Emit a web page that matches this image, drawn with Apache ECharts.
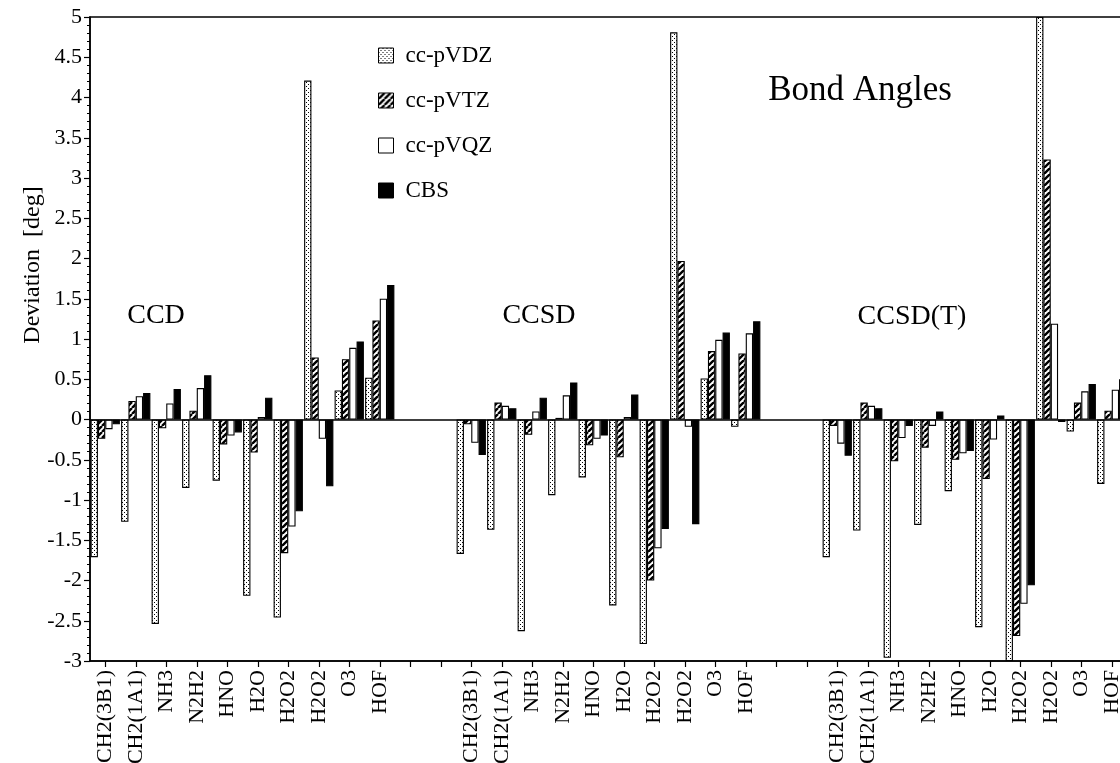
<!DOCTYPE html>
<html>
<head>
<meta charset="utf-8">
<title>Bond Angles</title>
<script src="https://cdn.jsdelivr.net/npm/echarts@6/dist/echarts.min.js"></script>
<style>
  html, body { margin: 0; padding: 0; background: #fff; }
  #chart { width: 1120px; height: 763px; }
</style>
</head>
<body>
<div id="chart"></div>
<script>
// Molecules shown in each method block
const molecules = ['CH2(3B1)', 'CH2(1A1)', 'NH3', 'N2H2', 'HNO', 'H2O', 'H2O2', 'H2O2', 'O3', 'HOF'];
const methods = ['CCD', 'CCSD', 'CCSD(T)'];
const basisSets = ['cc-pVDZ', 'cc-pVTZ', 'cc-pVQZ', 'CBS'];
const yTicks = [-3, -2.5, -2, -1.5, -1, -0.5, 0, 0.5, 1, 1.5, 2, 2.5, 3, 3.5, 4, 4.5, 5];

// Deviations [deg], one array per method and basis set
const ccdVDZ = [-1.71, -1.27, -2.54, -0.85, -0.76, -2.19, -2.46, 4.21, 0.36, 0.52];
const ccdVTZ = [-0.24, 0.23, -0.11, 0.11, -0.31, -0.41, -1.66, 0.77, 0.75, 1.23];
const ccdVQZ = [-0.12, 0.29, 0.20, 0.39, -0.20, 0.03, -1.33, -0.24, 0.89, 1.50];
const ccdCBS = [-0.06, 0.33, 0.38, 0.55, -0.16, 0.27, -1.14, -0.83, 0.97, 1.67];

const ccsdVDZ = [-1.67, -1.37, -2.63, -0.94, -0.72, -2.31, -2.79, 4.81, 0.51, -0.09];
const ccsdVTZ = [-0.06, 0.21, -0.19, 0.02, -0.32, -0.47, -2.00, 1.97, 0.85, 0.82];
const ccsdVQZ = [-0.29, 0.17, 0.10, 0.30, -0.24, 0.03, -1.60, -0.09, 0.99, 1.07];
const ccsdCBS = [-0.44, 0.14, 0.27, 0.46, -0.20, 0.31, -1.36, -1.30, 1.08, 1.22];

const ccsdtVDZ = [-1.71, -1.38, -2.96, -1.31, -0.89, -2.58, -3.00, 5.00, -0.15, -0.80];
const ccsdtVTZ = [-0.08, 0.21, -0.52, -0.35, -0.50, -0.74, -2.69, 3.23, 0.21, 0.11];
const ccsdtVQZ = [-0.30, 0.17, -0.23, -0.08, -0.42, -0.25, -2.29, 1.19, 0.35, 0.37];
const ccsdtCBS = [-0.45, 0.14, -0.08, 0.10, -0.39, 0.05, -2.06, -0.03, 0.44, 0.50];

const groupData = [
  [ccdVDZ, ccdVTZ, ccdVQZ, ccdCBS],
  [ccsdVDZ, ccsdVTZ, ccsdVQZ, ccsdCBS],
  [ccsdtVDZ, ccsdtVTZ, ccsdtVQZ, ccsdtCBS]
];
const GAP = 2; // empty slots between method blocks

// Category axis: the three blocks with empty slots in between
const categories = [];
methods.forEach((m, gi) => {
  molecules.forEach(mol => categories.push(mol));
  if (gi < methods.length - 1) for (let k = 0; k < GAP; k++) categories.push('');
});

function seriesValues(bi) {
  const out = [];
  groupData.forEach((g, gi) => {
    g[bi].forEach(v => out.push(v));
    if (gi < groupData.length - 1) for (let k = 0; k < GAP; k++) out.push(null);
  });
  return out;
}

// Fill patterns
function dotPattern() {
  const c = document.createElement('canvas');
  c.width = 4; c.height = 4;
  const ctx = c.getContext('2d');
  ctx.fillStyle = '#fff'; ctx.fillRect(0, 0, 4, 4);
  ctx.fillStyle = '#000';
  ctx.fillRect(0, 0, 1, 1);
  ctx.fillRect(2, 2, 1, 1);
  return c;
}
function hatchPattern() {
  const s = 6;
  const c = document.createElement('canvas');
  c.width = s; c.height = s;
  const ctx = c.getContext('2d');
  ctx.fillStyle = '#fff'; ctx.fillRect(0, 0, s, s);
  ctx.strokeStyle = '#000';
  ctx.lineWidth = 2.4;
  ctx.beginPath();
  for (let k = -1; k <= 1; k++) {
    ctx.moveTo(k * s, s);
    ctx.lineTo(k * s + s, 0);
  }
  ctx.stroke();
  return c;
}

const fills = [
  { image: dotPattern(), repeat: 'repeat' },
  { image: hatchPattern(), repeat: 'repeat' },
  '#ffffff',
  '#000000'
];

const FONT = "'Liberation Serif', 'Times New Roman', serif";

const series = basisSets.map((name, bi) => {
  const s = {
    name: name,
    type: 'bar',
    data: seriesValues(bi),
    barGap: '0%',
    barCategoryGap: '4%',
    itemStyle: { color: fills[bi], borderColor: '#000', borderWidth: 1.1 },
    emphasis: { disabled: true },
    animation: false
  };
  if (bi === 0) {
    s.markLine = {
      silent: true,
      symbol: 'none',
      label: { show: false },
      lineStyle: { color: '#000', width: 1.5, type: 'solid' },
      data: [{ yAxis: 0 }],
      animation: false
    };
  }
  return s;
});

const chart = echarts.init(document.getElementById('chart'), null, { renderer: 'canvas' });

chart.setOption({
  backgroundColor: '#fff',
  animation: false,
  textStyle: { fontFamily: FONT, color: '#000' },
  grid: {
    left: 90, top: 17, width: 1037, height: 644,
    outerBoundsMode: 'none',
    containLabel: false,
    show: true, borderColor: '#000', borderWidth: 1.5, backgroundColor: 'transparent'
  },
  legend: {
    data: basisSets,
    orient: 'vertical',
    left: 373,
    top: 39,
    itemWidth: 15,
    itemHeight: 15,
    itemGap: 22,
    icon: 'rect',
    selectedMode: false,
    itemStyle: { borderColor: '#000', borderWidth: 1 },
    textStyle: { fontFamily: FONT, fontSize: 23, lineHeight: 23, color: '#000', padding: [0, 0, 0, 7] }
  },
  xAxis: {
    type: 'category',
    data: categories,
    position: 'bottom',
    axisLine: { onZero: false, lineStyle: { color: '#000', width: 1.5 } },
    axisTick: { show: true, alignWithLabel: true, interval: 0, length: 6, lineStyle: { color: '#000', width: 1.2 } },
    axisLabel: {
      interval: 0, rotate: 90, margin: 9,
      fontFamily: FONT, fontSize: 22, color: '#000'
    },
    splitLine: { show: false }
  },
  yAxis: [{
    type: 'value',
    min: yTicks[0],
    max: yTicks[yTicks.length - 1],
    interval: 0.5,
    axisLine: { show: true, lineStyle: { color: '#000', width: 1.5 } },
    axisTick: { show: true, length: 6, lineStyle: { color: '#000', width: 1.2 } },
    minorTick: { show: true, splitNumber: 5, length: 3, lineStyle: { color: '#000', width: 1 } },
    axisLabel: { margin: 8, fontFamily: FONT, fontSize: 22, color: '#000' },
    splitLine: { show: false }
  }],
  graphic: [
    {
      type: 'text', x: 33, y: 265, rotation: Math.PI / 2,
      style: { text: 'Deviation  [deg]', font: '24px ' + FONT, fill: '#000', align: 'center', verticalAlign: 'middle' }
    },
    {
      type: 'text', x: 860, y: 91,
      style: { text: 'Bond Angles', font: '35px ' + FONT, fill: '#000', align: 'center', verticalAlign: 'middle' }
    },
    {
      type: 'text', x: 156, y: 316,
      style: { text: methods[0], font: '28px ' + FONT, fill: '#000', align: 'center', verticalAlign: 'middle' }
    },
    {
      type: 'text', x: 539, y: 316,
      style: { text: methods[1], font: '28px ' + FONT, fill: '#000', align: 'center', verticalAlign: 'middle' }
    },
    {
      type: 'text', x: 912, y: 317,
      style: { text: methods[2], font: '28px ' + FONT, fill: '#000', align: 'center', verticalAlign: 'middle' }
    }
  ],
  series: series
});
</script>
</body>
</html>
